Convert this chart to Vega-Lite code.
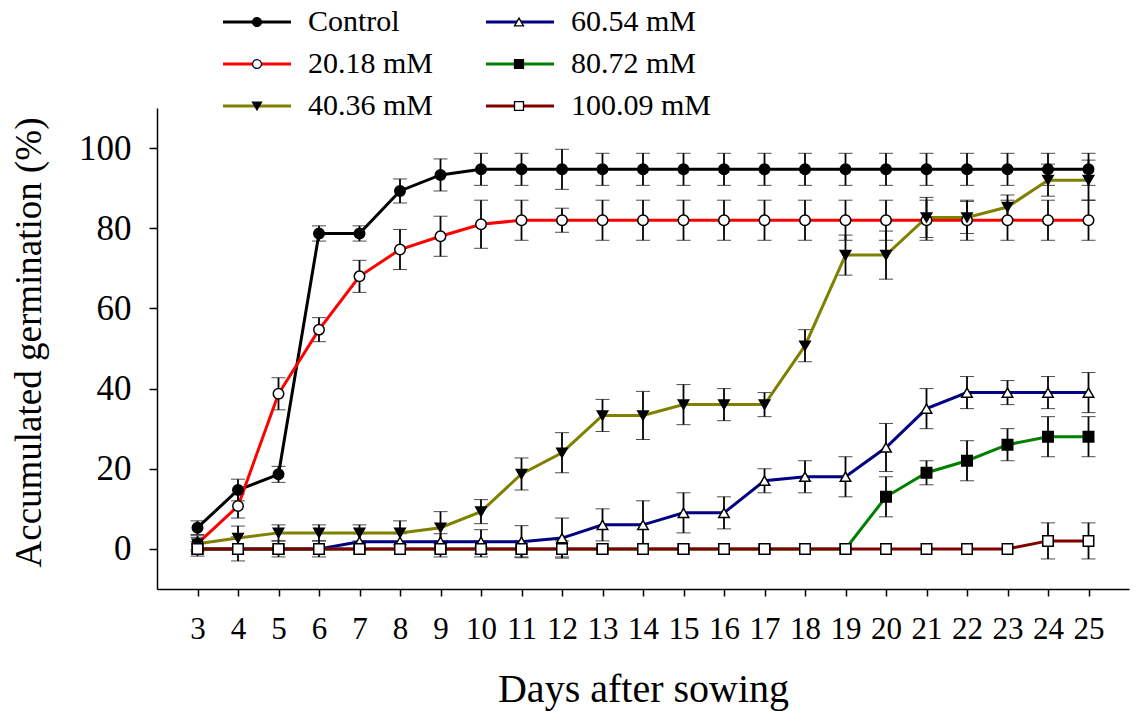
{
"$schema": "https://vega.github.io/schema/vega-lite/v6.json",
"width": 972, "height": 481,
"autosize": {"type": "none"},
"padding": {"left": 157, "top": 108, "right": 7, "bottom": 122},
"background": "white",
"config": {"font": "Liberation Serif", "view": {"stroke": null}, "legend": {"labelFont": "Liberation Serif"}},
"data": {"values": [
{"day":3,"series":"Control","mean":5.3,"err":1.7},{"day":4,"series":"Control","mean":14.7,"err":2.7},{"day":5,"series":"Control","mean":18.6,"err":2},{"day":6,"series":"Control","mean":78.7,"err":1.9},{"day":7,"series":"Control","mean":78.7,"err":1.9},{"day":8,"series":"Control","mean":89.3,"err":3},{"day":9,"series":"Control","mean":93.3,"err":4},{"day":10,"series":"Control","mean":94.7,"err":4},{"day":11,"series":"Control","mean":94.7,"err":4},{"day":12,"series":"Control","mean":94.7,"err":5},{"day":13,"series":"Control","mean":94.7,"err":4},{"day":14,"series":"Control","mean":94.7,"err":4},{"day":15,"series":"Control","mean":94.7,"err":4},{"day":16,"series":"Control","mean":94.7,"err":4},{"day":17,"series":"Control","mean":94.7,"err":4},{"day":18,"series":"Control","mean":94.7,"err":4},{"day":19,"series":"Control","mean":94.7,"err":4},{"day":20,"series":"Control","mean":94.7,"err":4},{"day":21,"series":"Control","mean":94.7,"err":4},{"day":22,"series":"Control","mean":94.7,"err":4},{"day":23,"series":"Control","mean":94.7,"err":4},{"day":24,"series":"Control","mean":94.7,"err":4},{"day":25,"series":"Control","mean":94.7,"err":4},
{"day":3,"series":"20.18 mM","mean":1.3,"err":2},{"day":4,"series":"20.18 mM","mean":10.7,"err":3},{"day":5,"series":"20.18 mM","mean":38.7,"err":4},{"day":6,"series":"20.18 mM","mean":54.7,"err":3},{"day":7,"series":"20.18 mM","mean":68,"err":4},{"day":8,"series":"20.18 mM","mean":74.7,"err":5},{"day":9,"series":"20.18 mM","mean":78,"err":5},{"day":10,"series":"20.18 mM","mean":81,"err":6},{"day":11,"series":"20.18 mM","mean":82,"err":5},{"day":12,"series":"20.18 mM","mean":82,"err":3},{"day":13,"series":"20.18 mM","mean":82,"err":5},{"day":14,"series":"20.18 mM","mean":82,"err":5},{"day":15,"series":"20.18 mM","mean":82,"err":5},{"day":16,"series":"20.18 mM","mean":82,"err":5},{"day":17,"series":"20.18 mM","mean":82,"err":5},{"day":18,"series":"20.18 mM","mean":82,"err":5},{"day":19,"series":"20.18 mM","mean":82,"err":5},{"day":20,"series":"20.18 mM","mean":82,"err":5},{"day":21,"series":"20.18 mM","mean":82,"err":5},{"day":22,"series":"20.18 mM","mean":82,"err":5},{"day":23,"series":"20.18 mM","mean":82,"err":5},{"day":24,"series":"20.18 mM","mean":82,"err":5},{"day":25,"series":"20.18 mM","mean":82,"err":5},
{"day":3,"series":"40.36 mM","mean":1.3,"err":1.5},{"day":4,"series":"40.36 mM","mean":2.7,"err":3},{"day":5,"series":"40.36 mM","mean":4,"err":2},{"day":6,"series":"40.36 mM","mean":4,"err":2},{"day":7,"series":"40.36 mM","mean":4,"err":2},{"day":8,"series":"40.36 mM","mean":4,"err":3},{"day":9,"series":"40.36 mM","mean":5.3,"err":4},{"day":10,"series":"40.36 mM","mean":9.3,"err":3},{"day":11,"series":"40.36 mM","mean":18.7,"err":4},{"day":12,"series":"40.36 mM","mean":24,"err":5},{"day":13,"series":"40.36 mM","mean":33.3,"err":4},{"day":14,"series":"40.36 mM","mean":33.3,"err":6},{"day":15,"series":"40.36 mM","mean":36,"err":5},{"day":16,"series":"40.36 mM","mean":36,"err":4},{"day":17,"series":"40.36 mM","mean":36,"err":3},{"day":18,"series":"40.36 mM","mean":50.7,"err":4},{"day":19,"series":"40.36 mM","mean":73.3,"err":5},{"day":20,"series":"40.36 mM","mean":73.3,"err":6},{"day":21,"series":"40.36 mM","mean":82.7,"err":5},{"day":22,"series":"40.36 mM","mean":82.7,"err":4},{"day":23,"series":"40.36 mM","mean":85.3,"err":3},{"day":24,"series":"40.36 mM","mean":92,"err":4},{"day":25,"series":"40.36 mM","mean":92,"err":5},
{"day":3,"series":"60.54 mM","mean":0,"err":0},{"day":4,"series":"60.54 mM","mean":0,"err":0},{"day":5,"series":"60.54 mM","mean":0,"err":0},{"day":6,"series":"60.54 mM","mean":0,"err":0},{"day":7,"series":"60.54 mM","mean":1.8,"err":2},{"day":8,"series":"60.54 mM","mean":1.8,"err":2},{"day":9,"series":"60.54 mM","mean":1.8,"err":2},{"day":10,"series":"60.54 mM","mean":1.8,"err":3},{"day":11,"series":"60.54 mM","mean":1.8,"err":4},{"day":12,"series":"60.54 mM","mean":2.7,"err":5},{"day":13,"series":"60.54 mM","mean":6,"err":4},{"day":14,"series":"60.54 mM","mean":6,"err":6},{"day":15,"series":"60.54 mM","mean":9,"err":5},{"day":16,"series":"60.54 mM","mean":9,"err":4},{"day":17,"series":"60.54 mM","mean":17,"err":3},{"day":18,"series":"60.54 mM","mean":18,"err":4},{"day":19,"series":"60.54 mM","mean":18,"err":5},{"day":20,"series":"60.54 mM","mean":25.3,"err":6},{"day":21,"series":"60.54 mM","mean":35,"err":5},{"day":22,"series":"60.54 mM","mean":39,"err":4},{"day":23,"series":"60.54 mM","mean":39,"err":3},{"day":24,"series":"60.54 mM","mean":39,"err":4},{"day":25,"series":"60.54 mM","mean":39,"err":5},
{"day":3,"series":"80.72 mM","mean":0,"err":0},{"day":4,"series":"80.72 mM","mean":0,"err":0},{"day":5,"series":"80.72 mM","mean":0,"err":0},{"day":6,"series":"80.72 mM","mean":0,"err":0},{"day":7,"series":"80.72 mM","mean":0,"err":0},{"day":8,"series":"80.72 mM","mean":0,"err":0},{"day":9,"series":"80.72 mM","mean":0,"err":0},{"day":10,"series":"80.72 mM","mean":0,"err":0},{"day":11,"series":"80.72 mM","mean":0,"err":0},{"day":12,"series":"80.72 mM","mean":0,"err":0},{"day":13,"series":"80.72 mM","mean":0,"err":0},{"day":14,"series":"80.72 mM","mean":0,"err":0},{"day":15,"series":"80.72 mM","mean":0,"err":0},{"day":16,"series":"80.72 mM","mean":0,"err":0},{"day":17,"series":"80.72 mM","mean":0,"err":0},{"day":18,"series":"80.72 mM","mean":0,"err":0},{"day":19,"series":"80.72 mM","mean":0,"err":0},{"day":20,"series":"80.72 mM","mean":13,"err":5},{"day":21,"series":"80.72 mM","mean":19,"err":3},{"day":22,"series":"80.72 mM","mean":22,"err":5},{"day":23,"series":"80.72 mM","mean":26,"err":4},{"day":24,"series":"80.72 mM","mean":28,"err":5},{"day":25,"series":"80.72 mM","mean":28,"err":5},
{"day":3,"series":"100.09 mM","mean":0,"err":1.8},{"day":4,"series":"100.09 mM","mean":0,"err":3},{"day":5,"series":"100.09 mM","mean":0,"err":2},{"day":6,"series":"100.09 mM","mean":0,"err":2},{"day":7,"series":"100.09 mM","mean":0,"err":0},{"day":8,"series":"100.09 mM","mean":0,"err":0},{"day":9,"series":"100.09 mM","mean":0,"err":2},{"day":10,"series":"100.09 mM","mean":0,"err":2},{"day":11,"series":"100.09 mM","mean":0,"err":2},{"day":12,"series":"100.09 mM","mean":0,"err":2},{"day":13,"series":"100.09 mM","mean":0,"err":0},{"day":14,"series":"100.09 mM","mean":0,"err":0},{"day":15,"series":"100.09 mM","mean":0,"err":0},{"day":16,"series":"100.09 mM","mean":0,"err":0},{"day":17,"series":"100.09 mM","mean":0,"err":0},{"day":18,"series":"100.09 mM","mean":0,"err":0},{"day":19,"series":"100.09 mM","mean":0,"err":0},{"day":20,"series":"100.09 mM","mean":0,"err":0},{"day":21,"series":"100.09 mM","mean":0,"err":0},{"day":22,"series":"100.09 mM","mean":0,"err":0},{"day":23,"series":"100.09 mM","mean":0,"err":0},{"day":24,"series":"100.09 mM","mean":2,"err":4.5},{"day":25,"series":"100.09 mM","mean":2,"err":4.5}
]},
"encoding": {
"x": {"field": "day", "type": "quantitative", "scale": {"domain": [2, 26], "nice": false, "zero": false},
"axis": {"title": "Days after sowing", "values": [3,4,5,6,7,8,9,10,11,12,13,14,15,16,17,18,19,20,21,22,23,24,25], "grid": false, "tickSize": 7, "tickWidth": 1.5, "tickColor": "black", "domainColor": "black", "domainWidth": 1.5, "labelFontSize": 31, "labelFont": "Liberation Serif", "labelColor": "black", "labelPadding": 18, "labelOverlap": false, "labelFlush": false, "titleFontSize": 40, "titleFont": "Liberation Serif", "titleFontWeight": "normal", "titleColor": "black", "titlePadding": 25}},
"y": {"field": "mean", "type": "quantitative", "scale": {"domain": [-10, 110], "nice": false, "zero": false},
"axis": {"title": "Accumulated germination (%)", "values": [0,20,40,60,80,100], "grid": false, "tickSize": 8, "tickWidth": 1.5, "tickColor": "black", "domainColor": "black", "domainWidth": 1.5, "labelFontSize": 35, "labelFont": "Liberation Serif", "labelColor": "black", "labelPadding": 18, "labelOverlap": false, "labelFlush": false, "titleFontSize": 37, "titleFont": "Liberation Serif", "titleFontWeight": "normal", "titleColor": "black", "titlePadding": 30, "titleY": 234}}
},
"resolve": {"legend": {"color": "independent", "shape": "independent", "fill": "independent"}},
"layer": [
{
"transform": [{"filter": "datum.err > 0"}],
"mark": {"type": "errorbar", "color": "black", "ticks": {"size": 14, "color": "black", "strokeWidth": 1.8}, "rule": {"strokeWidth": 1.8, "color": "black"}},
"encoding": {
"yError": {"field": "err"}
}
},
{
"mark": {"type": "line", "strokeWidth": 3},
"encoding": {
"color": {"field": "series", "type": "nominal",
"scale": {"domain": ["Control","20.18 mM","40.36 mM","60.54 mM","80.72 mM","100.09 mM"], "range": ["#000000","#ff0000","#808000","#000080","#008000","#800000"]},
"legend": {"orient": "none", "legendX": 85, "legendY": -101, "columns": 2, "title": null, "symbolType": "M-8,0H8", "symbolSize": 72.25, "symbolStrokeWidth": 3, "labelFontSize": 30, "labelFont": "Liberation Serif", "labelColor": "black", "labelOffset": 36, "columnPadding": 46, "rowPadding": 12, "labelLimit": 0}}
}
},
{
"mark": {"type": "point", "filled": true, "stroke": "black", "strokeWidth": 1.5, "size": 110, "opacity": 1},
"encoding": {
"shape": {"field": "series", "type": "nominal",
"scale": {"domain": ["Control","20.18 mM","40.36 mM","60.54 mM","80.72 mM","100.09 mM"], "range": ["circle","circle","triangle-down","triangle-up","square","square"]},
"legend": {"orient": "none", "legendX": 85, "legendY": -101, "columns": 2, "title": null, "symbolSize": 80, "symbolStrokeWidth": 1.3, "labelFontSize": 30, "labelFont": "Liberation Serif", "labelExpr": "'\u00a0'", "labelOffset": 44, "columnPadding": 188, "rowPadding": 12, "labelLimit": 0,
"encode": {"symbols": {"stroke": {"value": "black"}, "strokeWidth": {"value": 1.3}, "opacity": {"value": 1}}}}},
"fill": {"field": "series", "type": "nominal",
"scale": {"domain": ["Control","20.18 mM","40.36 mM","60.54 mM","80.72 mM","100.09 mM"], "range": ["black","white","black","white","black","white"]},
"legend": {"orient": "none", "legendX": 85, "legendY": -101, "columns": 2, "title": null, "symbolSize": 80, "symbolStrokeWidth": 1.3, "labelFontSize": 30, "labelFont": "Liberation Serif", "labelExpr": "'\u00a0'", "labelOffset": 44, "columnPadding": 188, "rowPadding": 12, "labelLimit": 0,
"encode": {"symbols": {"stroke": {"value": "black"}, "strokeWidth": {"value": 1.3}, "opacity": {"value": 1}}}}}
}
}
]
}
